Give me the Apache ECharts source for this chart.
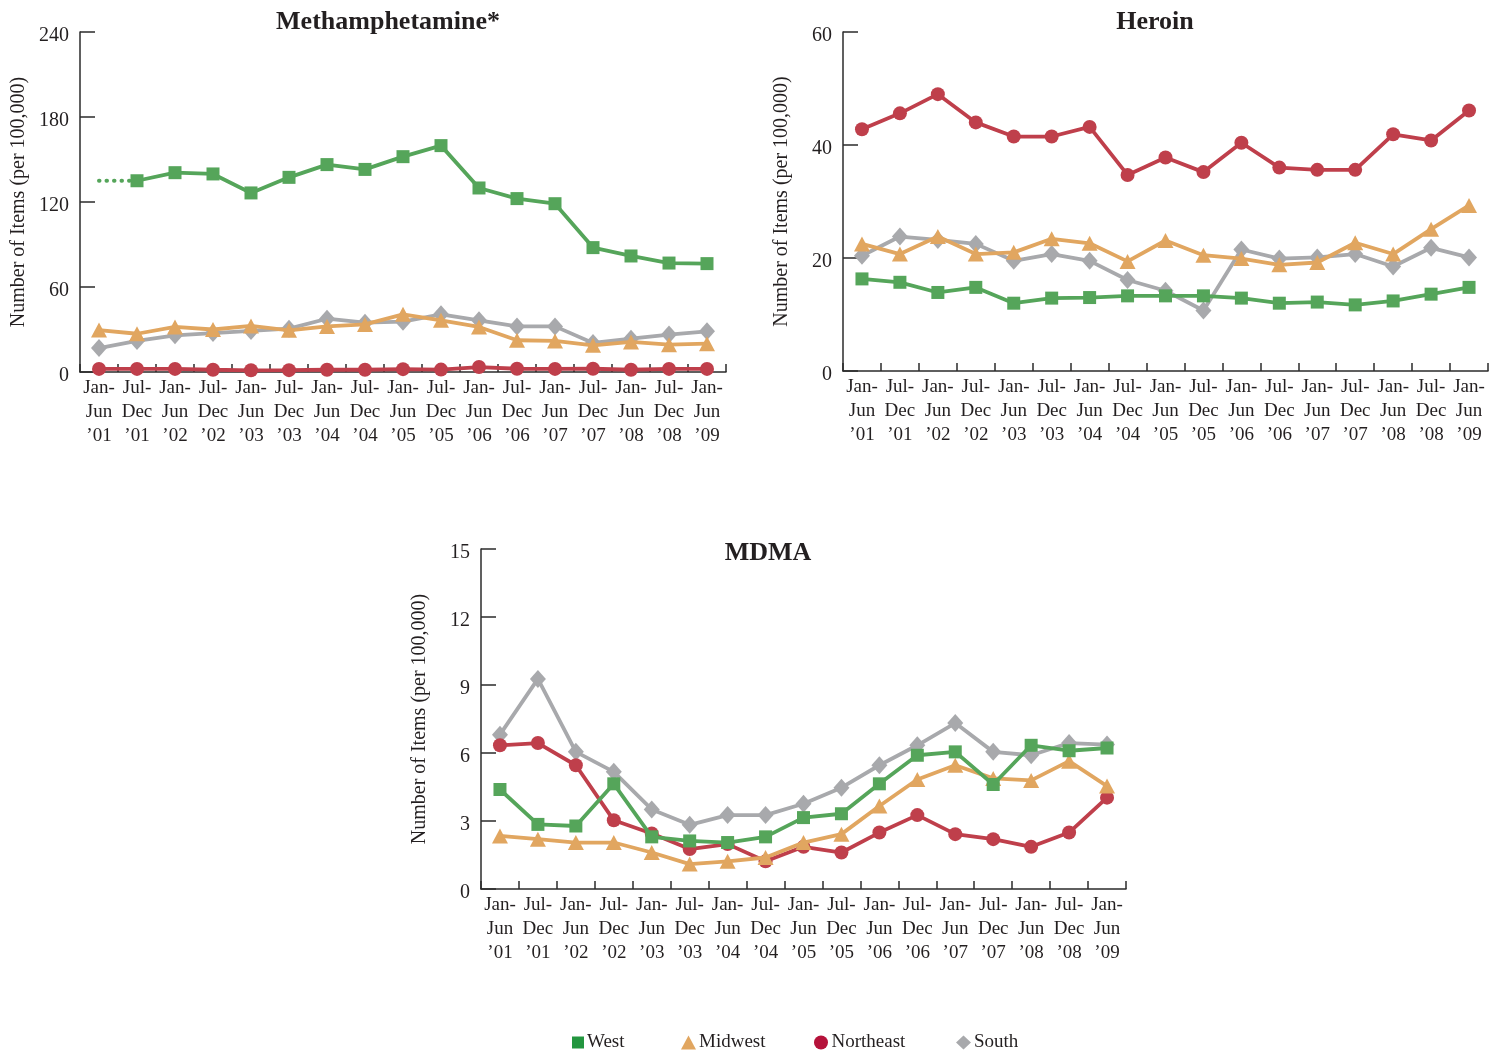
<!DOCTYPE html>
<html>
<head>
<meta charset="utf-8">
<title>Drug items per 100,000 by region</title>
<script src="https://cdn.jsdelivr.net/npm/echarts/dist/echarts.min.js"></script>
<style>
  html, body { margin: 0; padding: 0; background: #ffffff; }
  #chart { width: 1502px; height: 1055px; }
</style>
</head>
<body>
<div id="chart"></div>
<script>
// Half-year reporting periods
const periods = [
  'Jan-\nJun\n’01', 'Jul-\nDec\n’01', 'Jan-\nJun\n’02', 'Jul-\nDec\n’02',
  'Jan-\nJun\n’03', 'Jul-\nDec\n’03', 'Jan-\nJun\n’04', 'Jul-\nDec\n’04',
  'Jan-\nJun\n’05', 'Jul-\nDec\n’05', 'Jan-\nJun\n’06', 'Jul-\nDec\n’06',
  'Jan-\nJun\n’07', 'Jul-\nDec\n’07', 'Jan-\nJun\n’08', 'Jul-\nDec\n’08',
  'Jan-\nJun\n’09'
];

// Methamphetamine (items per 100,000)
const methWest      = [null, 135, 140.7, 139.8, 126.4, 137.4, 146.4, 143, 152, 159.8, 129.9, 122.4, 118.8, 87.8, 81.9, 76.9, 76.5];
const methMidwest   = [29.6, 27, 31.8, 30, 32.5, 29.4, 32.2, 33.6, 40.7, 36.5, 31.8, 22.4, 21.9, 18.8, 21.2, 19.3, 20];
const methNortheast = [2.2, 2.2, 2.2, 1.6, 1.2, 1.3, 1.6, 1.6, 2, 1.7, 3.5, 2.3, 2.2, 2.3, 1.6, 2.2, 2.2];
const methSouth     = [16.9, 21.9, 25.9, 27.5, 29, 30.6, 37.6, 34.8, 35.5, 40.7, 36.5, 32.2, 32.2, 20.5, 23.5, 26.4, 28.7];

// Heroin (items per 100,000)
const heroinWest      = [16.3, 15.7, 13.9, 14.8, 12, 12.9, 13, 13.3, 13.3, 13.3, 12.9, 12, 12.2, 11.7, 12.4, 13.6, 14.8];
const heroinMidwest   = [22.5, 20.7, 23.8, 20.7, 21, 23.4, 22.6, 19.4, 23.1, 20.5, 19.9, 18.8, 19.2, 22.7, 20.7, 25.1, 29.3];
const heroinNortheast = [42.8, 45.6, 49, 44, 41.5, 41.5, 43.2, 34.7, 37.8, 35.2, 40.4, 36, 35.6, 35.6, 41.9, 40.8, 46.1];
const heroinSouth     = [20.4, 23.8, 23.2, 22.5, 19.5, 20.7, 19.5, 16.1, 14.2, 10.7, 21.5, 19.9, 20.1, 20.7, 18.5, 21.8, 20.1];

// MDMA (items per 100,000)
const mdmaWest      = [4.39, 2.85, 2.78, 4.64, 2.3, 2.12, 2.05, 2.3, 3.15, 3.32, 4.64, 5.9, 6.05, 4.61, 6.34, 6.1, 6.22];
const mdmaMidwest   = [2.34, 2.2, 2.05, 2.05, 1.61, 1.1, 1.22, 1.39, 2.05, 2.42, 3.66, 4.83, 5.46, 4.88, 4.79, 5.64, 4.54];
const mdmaNortheast = [6.34, 6.44, 5.46, 3.03, 2.45, 1.76, 1.98, 1.22, 1.86, 1.61, 2.49, 3.26, 2.42, 2.2, 1.86, 2.49, 4.03];
const mdmaSouth     = [6.81, 9.27, 6.05, 5.17, 3.51, 2.83, 3.26, 3.26, 3.76, 4.47, 5.46, 6.34, 7.32, 6.05, 5.9, 6.44, 6.37];

// Y-axis scales: [max, interval]
const methScale   = [240, 60];
const heroinScale = [60, 20];
const mdmaScale   = [15, 3];

const FONT = 'Liberation Serif';
const AXIS_COLOR = '#2b2b2b';
const TEXT_COLOR = '#231f20';

const regionStyle = {
  West:      { color: '#55a55a', symbol: 'rect',     size: 13,       legendColor: '#23963f' },
  Midwest:   { color: '#e1a660', symbol: 'triangle', size: [16, 15], legendColor: '#e1a660' },
  Northeast: { color: '#bf3f4b', symbol: 'circle',   size: 14,       legendColor: '#b5123a' },
  South:     { color: '#a8a9ac', symbol: 'diamond',  size: [16, 18], legendColor: '#a8a9ac' }
};

function lineSeries(name, data, idx, z) {
  const s = regionStyle[name];
  return {
    name: name,
    type: 'line',
    xAxisIndex: idx,
    yAxisIndex: idx,
    data: data,
    z: z,
    symbol: s.symbol,
    symbolSize: s.size,
    showAllSymbol: true,
    connectNulls: false,
    lineStyle: { color: s.color, width: 3.8 },
    itemStyle: { color: s.color },
    emphasis: { disabled: true },
    animation: false
  };
}

function xAxisFor(idx) {
  return {
    type: 'category',
    gridIndex: idx,
    data: periods,
    boundaryGap: true,
    axisLine: { lineStyle: { color: AXIS_COLOR, width: 1.5 } },
    axisTick: { show: true, inside: true, length: 8, alignWithLabel: false,
                lineStyle: { color: AXIS_COLOR, width: 1.5 } },
    axisLabel: { interval: 0, margin: 4, color: TEXT_COLOR, fontFamily: FONT,
                 fontSize: 19, lineHeight: 24 },
    splitLine: { show: false }
  };
}

function yAxisFor(idx, scale) {
  return {
    type: 'value',
    gridIndex: idx,
    min: 0,
    max: scale[0],
    interval: scale[1],
    name: 'Number of Items (per 100,000)',
    nameLocation: 'middle',
    nameGap: 51,
    nameTextStyle: { color: TEXT_COLOR, fontFamily: FONT, fontSize: 20 },
    axisLine: { show: true, lineStyle: { color: AXIS_COLOR, width: 1.5 } },
    axisTick: { show: true, inside: true, length: 15,
                lineStyle: { color: AXIS_COLOR, width: 1.5 } },
    axisLabel: {
      margin: 11,
      formatter: '{v|{value}}',
      rich: { v: { color: TEXT_COLOR, fontFamily: FONT, fontSize: 20, padding: [8, 0, 0, 0] } }
    },
    splitLine: { show: false }
  };
}

function titleFor(text, x, y) {
  return {
    text: text,
    left: x,
    top: y,
    textAlign: 'center',
    textStyle: { fontFamily: FONT, fontSize: 26, fontWeight: 'bold', color: TEXT_COLOR }
  };
}

function legendFor(name, x) {
  const s = regionStyle[name];
  return {
    left: x,
    top: 1028,
    itemWidth: s.symbol === 'rect' ? 12 : 15,
    itemHeight: s.symbol === 'rect' ? 12 : 14,
    itemGap: 0,
    selectedMode: false,
    textStyle: { fontFamily: FONT, fontSize: 19, color: TEXT_COLOR, padding: [0, 0, 0, -2] },
    data: [{ name: name, icon: s.symbol, itemStyle: { color: s.legendColor } }]
  };
}

// Lead-in for the West methamphetamine line, whose first period is unreported
const methWestLead = periods.map((p, i) => (i < 2 ? methWest[1] : null));

const gridBase = { outerBoundsMode: 'none', containLabel: false };

const option = {
  backgroundColor: '#ffffff',
  animation: false,
  title: [
    titleFor('Methamphetamine*', 383, 4),
    titleFor('Heroin', 1150, 4),
    titleFor('MDMA', 763, 535)
  ],
  legend: [
    legendFor('West', 567),
    legendFor('Midwest', 676),
    legendFor('Northeast', 809),
    legendFor('South', 951)
  ],
  grid: [
    Object.assign({ left: 80,  top: 32,  width: 646, height: 340 }, gridBase),
    Object.assign({ left: 843, top: 32,  width: 645, height: 339 }, gridBase),
    Object.assign({ left: 481, top: 549, width: 645, height: 340 }, gridBase)
  ],
  xAxis: [xAxisFor(0), xAxisFor(1), xAxisFor(2)],
  yAxis: [yAxisFor(0, methScale), yAxisFor(1, heroinScale), yAxisFor(2, mdmaScale)],
  series: [
    {
      name: 'West',
      type: 'line',
      xAxisIndex: 0,
      yAxisIndex: 0,
      data: methWestLead,
      symbol: 'none',
      z: 1,
      lineStyle: { color: regionStyle.West.color, width: 4, type: [0.5, 7], cap: 'round' },
      emphasis: { disabled: true },
      animation: false
    },
    lineSeries('Northeast', methNortheast, 0, 2),
    lineSeries('South', methSouth, 0, 3),
    lineSeries('Midwest', methMidwest, 0, 4),
    lineSeries('West', methWest, 0, 5),

    lineSeries('South', heroinSouth, 1, 2),
    lineSeries('Midwest', heroinMidwest, 1, 3),
    lineSeries('West', heroinWest, 1, 4),
    lineSeries('Northeast', heroinNortheast, 1, 5),

    lineSeries('South', mdmaSouth, 2, 2),
    lineSeries('Northeast', mdmaNortheast, 2, 3),
    lineSeries('Midwest', mdmaMidwest, 2, 4),
    lineSeries('West', mdmaWest, 2, 5)
  ]
};

const chart = echarts.init(document.getElementById('chart'), null, { renderer: 'canvas' });
chart.setOption(option);
</script>
</body>
</html>
